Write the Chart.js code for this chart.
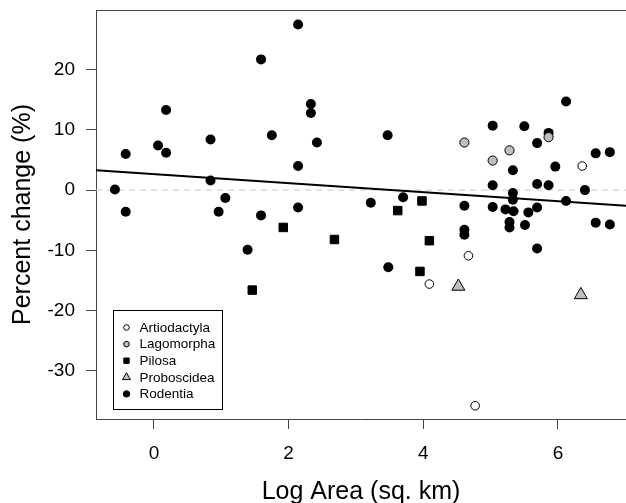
<!DOCTYPE html>
<html>
<head>
<meta charset="utf-8">
<script src="https://cdn.jsdelivr.net/npm/chart.js@4.4.1/dist/chart.umd.min.js"></script>
<style>
  html, body { margin: 0; padding: 0; background: #fff; overflow: hidden; }
  canvas { display: block; }
</style>
</head>
<body>
<canvas id="chartArea" width="626" height="503"></canvas>
<script>
// tick labels and axis limits
const xTicks = [0, 2, 4, 6];
const yTicks = [-30, -20, -10, 0, 10, 20];
const xLimits = [-0.861, 7.01];
const yLimits = [-38.0, 29.9];

// points per order (x = log area, y = percent change)
const artiodactylaX = [6.36, 4.67, 4.09, 4.77];
const artiodactylaY = [4.0, -10.9, -15.6, -35.8];

const lagomorphaX = [4.61, 5.28, 5.03, 5.86];
const lagomorphaY = [7.9, 6.6, 4.9, 8.8];

const pilosaX = [1.92, 2.68, 1.46, 3.62, 3.98, 4.09, 3.95];
const pilosaY = [-6.2, -8.2, -16.6, -3.4, -1.8, -8.4, -13.5];

const proboscideaX = [4.52, 6.34];
const proboscideaY = [-16.0, -17.4];

const rodentiaX = [2.14, 1.59, 2.33, 2.33, 0.18, 1.75, 0.84, 2.42, 0.06, -0.42,
  0.18, 2.14, 0.84, -0.58, 1.06, -0.42, 0.96, 1.59, 2.14, 1.39,
  3.47, 6.12, 5.03, 5.50, 5.86, 5.69, 6.56, 6.77, 5.96, 5.33,
  5.03, 5.69, 5.86, 6.40, 5.33, 5.33, 6.12, 3.22, 3.70, 4.61,
  5.03, 5.22, 5.34, 5.56, 5.69, 4.61, 4.61, 5.28, 5.28, 5.51,
  6.56, 6.77, 5.69, 3.48];
const rodentiaY = [27.5, 21.7, 14.3, 12.8, 13.3, 9.1, 8.4, 7.9, 7.4, 6.0,
  6.2, 4.0, 1.6, 0.1, -1.3, -3.6, -3.6, -4.2, -2.9, -9.9,
  9.1, 14.7, 10.7, 10.6, 9.5, 7.8, 6.1, 6.3, 3.9, 3.3,
  0.8, 1.0, 0.8, 0.0, -0.5, -1.6, -1.8, -2.1, -1.2, -2.6,
  -2.8, -3.2, -3.5, -3.7, -2.9, -6.6, -7.4, -5.3, -6.2, -5.8,
  -5.4, -5.7, -9.7, -12.8];

// fitted regression line
const fitIntercept = 2.65;
const fitSlope = -0.75;

const GRAY = '#bebebe';
const AXIS = '#444';

function toPoints(xs, ys) {
  return xs.map((x, i) => ({ x: x, y: ys[i] }));
}

// look of each order, used for the plot and for the legend
const orderStyles = [
  { label: 'Artiodactyla', xs: artiodactylaX, ys: artiodactylaY, shape: 'circle', fill: '#ffffff', border: '#000', r: 4.3, bw: 1, lr: 2.8 },
  { label: 'Lagomorpha', xs: lagomorphaX, ys: lagomorphaY, shape: 'circle', fill: GRAY, border: '#000', r: 4.6, bw: 1, lr: 2.8 },
  { label: 'Pilosa', xs: pilosaX, ys: pilosaY, shape: 'rect', fill: '#000', border: '#000', r: 6, bw: 1, lr: 3.8 },
  { label: 'Proboscidea', xs: proboscideaX, ys: proboscideaY, shape: 'triangle', fill: GRAY, border: '#000', r: 7.5, bw: 1, lr: 4.6 },
  { label: 'Rodentia', xs: rodentiaX, ys: rodentiaY, shape: 'circle', fill: '#000', border: '#000', r: 5, bw: 0, lr: 3.2 }
];

const pointSets = orderStyles.map((s, i) => ({
  type: 'scatter',
  label: s.label,
  data: toPoints(s.xs, s.ys),
  pointStyle: s.shape,
  pointRadius: s.r,
  pointBackgroundColor: s.fill,
  pointBorderColor: s.border,
  pointBorderWidth: s.bw,
  order: 1 + i
}));

const fitLine = {
  type: 'line',
  label: 'fit',
  data: xLimits.map(x => ({ x: x, y: fitIntercept + fitSlope * x })),
  borderColor: '#000',
  borderWidth: 2,
  pointRadius: 0,
  order: 0
};

const zeroLine = {
  type: 'line',
  label: 'zero',
  data: xLimits.map(x => ({ x: x, y: 0 })),
  borderColor: '#c8c8c8',
  borderWidth: 1,
  borderDash: [6, 5],
  pointRadius: 0,
  order: 20
};

// top edge of the box (right edge falls just outside the picture)
const boxPlugin = {
  id: 'boxTop',
  afterDraw(chart) {
    const { ctx, chartArea } = chart;
    ctx.save();
    ctx.strokeStyle = AXIS;
    ctx.lineWidth = 1;
    ctx.beginPath();
    ctx.moveTo(chartArea.left, chartArea.top + 0.5);
    ctx.lineTo(chartArea.right, chartArea.top + 0.5);
    ctx.stroke();
    ctx.restore();
  }
};

function drawSymbol(ctx, shape, x, y, r) {
  ctx.beginPath();
  if (shape === 'rect') {
    const h = r / Math.SQRT2;
    ctx.rect(x - h, y - h, 2 * h, 2 * h);
  } else if (shape === 'triangle') {
    ctx.moveTo(x, y - r);
    ctx.lineTo(x + r * Math.sin(Math.PI / 3), y + r / 2);
    ctx.lineTo(x - r * Math.sin(Math.PI / 3), y + r / 2);
    ctx.closePath();
  } else {
    ctx.arc(x, y, r, 0, Math.PI * 2);
  }
}

// R-style legend box in the lower left corner
const legendPlugin = {
  id: 'boxLegend',
  afterDatasetsDraw(chart) {
    const { ctx, chartArea } = chart;
    const left = chartArea.left + 17.5;
    const top = chartArea.bottom - 108.5;
    const w = 109, h = 99;
    ctx.save();
    ctx.fillStyle = '#fff';
    ctx.fillRect(left, top, w, h);
    ctx.strokeStyle = '#000';
    ctx.lineWidth = 1;
    ctx.strokeRect(left, top, w, h);
    ctx.font = "13.5px 'Liberation Sans', Arial, sans-serif";
    ctx.textBaseline = 'middle';
    ctx.textAlign = 'left';
    orderStyles.forEach((s, i) => {
      const y = top + 17 + i * 16.6;
      drawSymbol(ctx, s.shape, left + 13, y, s.lr);
      ctx.fillStyle = s.fill;
      ctx.fill();
      ctx.strokeStyle = s.border;
      ctx.lineWidth = 1;
      ctx.stroke();
      ctx.fillStyle = '#000';
      ctx.fillText(s.label, left + 26, y + 0.5);
    });
    ctx.restore();
  }
};

Chart.defaults.font.family = "'Liberation Sans', Arial, Helvetica, sans-serif";
Chart.defaults.color = '#000';

new Chart(document.getElementById('chartArea'), {
  type: 'scatter',
  data: { datasets: [zeroLine].concat(pointSets, [fitLine]) },
  options: {
    responsive: false,
    animation: false,
    layout: { autoPadding: false, padding: { top: 10, right: 0, left: 0, bottom: 0 } },
    plugins: {
      legend: { display: false },
      tooltip: { enabled: false }
    },
    scales: {
      x: {
        type: 'linear',
        min: xLimits[0],
        max: xLimits[1],
        afterBuildTicks: s => { s.ticks = xTicks.map(v => ({ value: v })); },
        afterFit: s => { s.height = 84; s.paddingLeft = 0; s.paddingRight = 0; },
        grid: { drawOnChartArea: false, drawTicks: true, tickLength: 10, tickColor: AXIS },
        border: { display: true, color: AXIS, width: 1 },
        ticks: { font: { size: 19 }, padding: 13, color: '#000' },
        title: { display: true, text: 'Log Area (sq. km)', font: { size: 25 }, padding: { top: 0, bottom: -4 }, color: '#000' }
      },
      y: {
        type: 'linear',
        min: yLimits[0],
        max: yLimits[1],
        afterBuildTicks: s => { s.ticks = yTicks.map(v => ({ value: v })); },
        afterFit: s => { s.width = 96; s.paddingTop = 0; s.paddingBottom = 0; },
        grid: { drawOnChartArea: false, drawTicks: true, tickLength: 10, tickColor: AXIS },
        border: { display: true, color: AXIS, width: 1 },
        ticks: { font: { size: 19 }, padding: 11, color: '#000' },
        title: { display: true, text: 'Percent change (%)', font: { size: 25 }, padding: { top: 8, bottom: 0 }, color: '#000' }
      }
    }
  },
  plugins: [boxPlugin, legendPlugin]
});
</script>
</body>
</html>
